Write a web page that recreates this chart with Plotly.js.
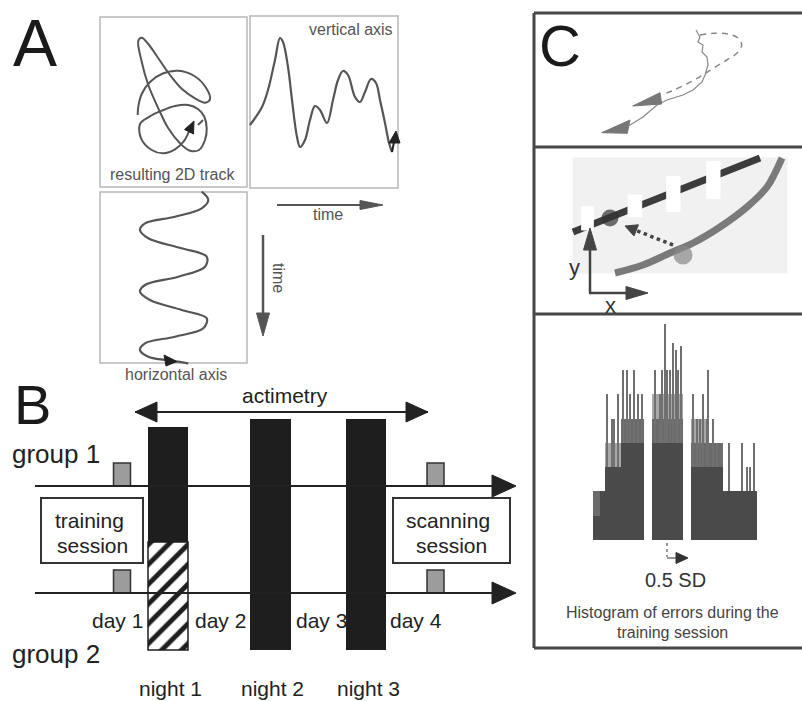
<!DOCTYPE html>
<html><head><meta charset="utf-8">
<script src="https://cdn.plot.ly/plotly-3.0.1.min.js"></script>
<style>html,body{margin:0;padding:0;background:#fff}#chart{width:802px;height:701px}</style>
</head><body><div id="chart"></div>
<script>
// ===== Panel A : traces =====
const trackX = [137.7,138.3,141.7,150,163.3,178.3,194.3,205.7,210,205,195,182.3,170,158.3,148.3,141.7,138.3,141.7,148.3,158.3,168.3,180,190,199,205,206.7,204.3,198.3,188.3,175,161.7,148.3,140,141,151.7,163.3,175,184.3,191];
const trackY = [115,106.7,94,82,73.3,70.7,76,87.3,99.3,102.7,98.3,89.3,75,58.3,44,37.7,40.7,61.7,85,108.3,128.3,143.3,150.7,150,140,128.3,116.7,109.3,105,106,110.7,117.3,124,138.3,150,153.3,149.3,140.7,126];
const trackTailX = [198,203], trackTailY = [125,120];
const trackHeadX = [194,184.5,193.5], trackHeadY = [121,129.5,134];

const vertSigX = [250,262,268,275,280,283,288,292,297,300,305,310,315,320,327,333,338,343,348,355,360,365,371,376,380,385,389,392];
const vertSigY = [125,107,90,60,38,42,67,100,137,147,140,120,106,110,123,100,80,71,75,97,102,92,79,83,100,123,143,152];
const vertHeadX = [396,389,400], vertHeadY = [131,143,143];
const vertStemX = [392,395], vertStemY = [152,137];

const horizSigX = [201.7,208.3,201.7,175,145,140,148.3,181.7,206.7,205,178.3,145,140,150,181.7,206.7,203.3,175,145,140,148.3,165,178.3,188.3];
const horizSigY = [191.7,200,208.3,216.7,223.3,230,238.3,248.3,256.7,266.7,276.7,285,291.7,300,310,318.3,328.3,336.7,343.3,350,356.7,360,361.7,363.3];
const horizHeadX = [177,164,166], horizHeadY = [361.5,355,366];

const timeArrowHX = [277,362], timeArrowHY = [205,205];
const timeHeadHX = [383,360,360], timeHeadHY = [205,200.5,209.5];
const timeArrowVX = [263,263], timeArrowVY = [235,315];
const timeHeadVX = [263,256.5,269.5], timeHeadVY = [336,313,313];

// ===== Panel B : protocol =====
const nightLabels = ['night 1','night 2','night 3'];
const nightLeft = [148,250,346], nightRight = [188,291,386];
const nightTop = [427,419,419], nightBottom = [650,650,650];
const hatchTop = 542;
const dayLabels = ['day 1','day 2','day 3','day 4'];
const dayLabelX = [117,220,321,416];
const groupLineY = [486,593];
const lineStartX = 35, lineEndX = 495, arrowTipX = 516;
const sessionSqX = [122,122,435.5,435.5], sessionSqTop = [463,570,463,570], sessionSqBottom = [486,593,486,593];
const actimetryX = [135,428], actimetryY = 412;

// ===== Panel C : top tracking =====
const c1SolidX = [696,700,698,703,702,707,708,705,702,693,683,667,657,643,630,618];
const c1SolidY = [30,37,42,45,52,57,65,75,82,90,95,100,105,117,125,129];
const c1SolidHeadX = [601.7,630,627.3], c1SolidHeadY = [132.7,120,133.3];
const c1DashX = [700,713.3,728.3,738.3,741.7,736.7,726.7,713.3,700,686.7,671.7,661.7];
const c1DashY = [35,33.3,34,38.3,45,53.3,60,68.3,76.7,84,91,95];
const c1DashHeadX = [632.7,660,661.7], c1DashHeadY = [106,92.7,104];

// ===== Panel C : middle error geometry =====
const c2TargetX = [573,760], c2TargetY = [232,158];
const c2CurveX = [615,643,670,693,720,747,767,775,782];
const c2CurveY = [273,265,253,243,227,207,187,173,158];
const c2NotchL = [581.7,628,666.7,706.7], c2NotchR = [593.3,641.7,680,720];
const c2NotchT = [206.7,195,176.7,161.7], c2NotchB = [230,216.7,211.7,198.3];
const c2TargetPt = [610,218], c2CursorPt = [683,255];
const c2ErrX = [673,636], c2ErrY = [245,230.4];
const c2ErrHeadX = [625,638.4,634], c2ErrHeadY = [226,224.8,236];

// ===== Panel C : histogram (bins, counts) =====
const histDarkStart = [0,3.5,6,14,29.5,49,65];
const histDarkEnd   = [3.5,6,14,25.5,45,65,82];
const histDarkCount = [1,2,3,4,4,3,2];
const histMidStart = [0,29.5,49,14];
const histMidEnd   = [3.5,45,65,25.5];
const histMidCount = [2,5,4,5];
const histLightStart = [49,6,29.5];
const histLightEnd   = [57,14,45];
const histLightCount = [5,4,6];
const spikeBin   = [7,9.5,10.5,12.5,15,17,18.5,20.5,22.5,24.5,31,33.5,34.5,36,37,38.5,40,41.5,42.5,44,50,52,53.5,55,57,57.5,60,62,64.5,68,74.5,77,78.5,80.5];
const spikeCount = [6,5,5,6,7,7,6,7,6,6,7,6,7,8.9,7,7,8.1,7.8,7,8,6,5,5,6,5,7,5,4,4,4,4,3,3,4];

// ===== helpers =====
const FONT = 'Liberation Sans, Arial, Helvetica, sans-serif';
const traces = [];
function line(x, y, color, width, dash, spline){
  traces.push({type:'scatter', mode:'lines', x, y, xaxis:'x', yaxis:'y', hoverinfo:'skip',
    line:{color, width, dash: dash || 'solid', shape: spline ? 'spline' : 'linear', smoothing: 1}});
}
function poly(x, y, color){
  traces.push({type:'scatter', mode:'lines', x:[...x, x[0]], y:[...y, y[0]], xaxis:'x', yaxis:'y',
    fill:'toself', fillcolor:color, line:{color, width:1}, hoverinfo:'skip'});
}
function rectTrace(l, r, t, b, color){ poly([l,r,r,l],[t,t,b,b],color); }

// ---- Panel A
line(trackX, trackY, '#555', 2, null, true);
line(trackTailX, trackTailY, '#555', 2);
poly(trackHeadX, trackHeadY, '#222');
line(vertSigX, vertSigY, '#555', 2.2, null, true);
line(vertStemX, vertStemY, '#222', 2);
poly(vertHeadX, vertHeadY, '#222');
line(horizSigX, horizSigY, '#555', 2.2, null, true);
poly(horizHeadX, horizHeadY, '#222');
line(timeArrowHX, timeArrowHY, '#555', 2);
poly(timeHeadHX, timeHeadHY, '#555');
line(timeArrowVX, timeArrowVY, '#555', 2.5);
poly(timeHeadVX, timeHeadVY, '#555');

// ---- Panel B
line(actimetryX, [actimetryY, actimetryY], '#222', 2);
poly([actimetryX[0], actimetryX[0]+22, actimetryX[0]+22], [actimetryY, actimetryY-10, actimetryY+10], '#222');
poly([actimetryX[1], actimetryX[1]-22, actimetryX[1]-22], [actimetryY, actimetryY-10, actimetryY+10], '#222');
groupLineY.forEach(gy => {
  line([lineStartX, lineEndX], [gy, gy], '#222', 2);
  poly([arrowTipX, lineEndX-3, lineEndX-3], [gy, gy-11, gy+11], '#222');
});
traces.push({type:'bar', xaxis:'x', yaxis:'y', hoverinfo:'skip',
  x: nightLeft.map((l,i)=>(l+nightRight[i])/2), width: nightLeft.map((l,i)=>nightRight[i]-l),
  base: nightTop, y: nightTop.map((t,i)=>nightBottom[i]-t),
  marker:{color:'#1e1e1e', line:{width:0}}});
traces.push({type:'bar', xaxis:'x', yaxis:'y', hoverinfo:'skip',
  x:[(nightLeft[0]+nightRight[0])/2], width:[nightRight[0]-nightLeft[0]],
  base:[hatchTop], y:[nightBottom[0]-hatchTop],
  marker:{color:'#ffffff', line:{color:'#1e1e1e', width:1.5},
    pattern:{shape:'/', fgcolor:'#1e1e1e', bgcolor:'#ffffff', size:14, solidity:0.35, fillmode:'replace'}}});
traces.push({type:'bar', xaxis:'x', yaxis:'y', hoverinfo:'skip',
  x: sessionSqX, width: 17, base: sessionSqTop, y: sessionSqTop.map((t,i)=>sessionSqBottom[i]-t),
  marker:{color:'#9c9c9c', line:{color:'#333', width:1.5}}});

// ---- Panel C top
line(c1SolidX, c1SolidY, '#888', 1.2);
poly(c1SolidHeadX, c1SolidHeadY, '#777');
line(c1DashX, c1DashY, '#888', 1.5, '6px,5px', true);
poly(c1DashHeadX, c1DashHeadY, '#777');

// ---- Panel C middle
rectTrace(573, 787, 158, 273, '#f1f1f1');
line(c2TargetX, c2TargetY, '#3c3c3c', 7);
c2NotchL.forEach((l,i)=>rectTrace(l, c2NotchR[i], c2NotchT[i], c2NotchB[i], '#ffffff'));
line(c2CurveX, c2CurveY, '#7a7a7a', 7, null, true);
line(c2ErrX, c2ErrY, '#444', 3.5, 'dot');
poly(c2ErrHeadX, c2ErrHeadY, '#444');
traces.push({type:'scatter', mode:'markers', xaxis:'x', yaxis:'y', hoverinfo:'skip',
  x:[c2TargetPt[0], c2CursorPt[0]], y:[c2TargetPt[1], c2CursorPt[1]],
  marker:{size:[17,19], color:['#333','#888'], line:{width:0}}});
line([590,590],[293,246], '#444', 2.5);
poly([590,583.5,596.5],[228,250,250], '#444');
line([589,630],[293,293], '#444', 2.5);
poly([648,626,626],[293,286.5,299.5], '#444');

// ---- histogram (own axes)
function histBars(s, e, c, color){
  traces.push({type:'bar', xaxis:'x2', yaxis:'y2', hoverinfo:'skip',
    x: s.map((v,i)=>(v+e[i])/2), width: s.map((v,i)=>e[i]-v), y: c,
    marker:{color, line:{width:0}}});
}
histBars(histLightStart, histLightEnd, histLightCount, '#a8a8a8');
histBars(histMidStart, histMidEnd, histMidCount, '#6a6a6a');
traces.push({type:'bar', xaxis:'x2', yaxis:'y2', hoverinfo:'skip',
  x: spikeBin, y: spikeCount, width: 0.6, marker:{color:'#707070', line:{width:0}}});
histBars(histDarkStart, histDarkEnd, histDarkCount, '#4a4a4a');
line([667,667],[543,557], '#555', 1.2, 'dot');
line([667,678],[558,558], '#555', 1.2);
poly([688,676,676],[558,552.5,563.5], '#333');

// ===== shapes =====
const shapes = [];
const box = (x0,y0,x1,y1,color,w) => shapes.push({type:'rect', xref:'x', yref:'y', x0, y0, x1, y1, line:{color, width:w}, layer:'below'});
box(100,17,247,187,'#b8b8b8',1.5);
box(250,16,398,188,'#b8b8b8',1.5);
box(100,192,247,363,'#b8b8b8',1.5);
box(41,498,143,563,'#333',2);
box(393,498,510,563,'#333',2);
const hl = (x0,y0,x1,y1) => shapes.push({type:'line', xref:'x', yref:'y', x0, y0, x1, y1, line:{color:'#474747', width:3}});
hl(534,13,802,13); hl(534,13,534,648); hl(534,147,802,147); hl(534,314,802,314); hl(534,648,802,648);

// ===== annotations =====
const annotations = [];
const txt = (text, x, y, size, color, extra) => annotations.push(Object.assign({text, x, y, xref:'x', yref:'y', showarrow:false, xanchor:'center', yanchor:'middle', font:{family:FONT, size, color}}, extra||{}));
txt('A', 35, 43, 66, '#1a1a1a');
txt('B', 32, 404, 56, '#1a1a1a');
txt('C', 560, 45, 58, '#1a1a1a');
txt('resulting 2D track', 172.5, 174.4, 16, '#555');
txt('vertical axis', 350.5, 29.4, 16, '#555');
txt('time', 328, 214.4, 16, '#555');
txt('time', 279, 278, 16, '#555', {textangle:90});
txt('horizontal axis', 176, 374.5, 16, '#555');
txt('actimetry', 285, 395, 21, '#222');
txt('group 1', 56, 454, 26, '#222');
txt('group 2', 56, 654, 26, '#222');
txt('training', 89, 520, 21, '#222');
txt('session', 92, 545, 21, '#222');
txt('scanning', 448, 520, 21, '#222');
txt('session', 451, 545, 21, '#222');
dayLabels.forEach((d,i)=>txt(d, dayLabelX[i], 620, 21, '#222'));
nightLabels.forEach((n,i)=>txt(n, (nightLeft[i]+nightRight[i])/2 + 2, 688, 21, '#222'));
txt('y', 574, 267, 22, '#333');
txt('x', 610, 305, 22, '#333');
txt('0.5 SD', 675, 580, 20, '#333');
txt('Histogram of errors during the', 672, 612.4, 16, '#444');
txt('training session', 672, 632, 16, '#444');

const layout = {
  width:802, height:701, margin:{l:0,r:0,t:0,b:0}, paper_bgcolor:'#fff', plot_bgcolor:'rgba(0,0,0,0)',
  showlegend:false, barmode:'overlay', bargap:0,
  xaxis:{range:[0,802], visible:false, domain:[0,1], fixedrange:true},
  yaxis:{range:[701,0], visible:false, domain:[0,1], fixedrange:true},
  xaxis2:{range:[0,82], visible:false, domain:[593/802, 757/802], anchor:'y2'},
  yaxis2:{range:[0,9.5], visible:false, domain:[1-540/701, 1-(540-9.5*24.3)/701], anchor:'x2'},
  shapes, annotations
};
Plotly.newPlot('chart', traces, layout, {displayModeBar:false, staticPlot:true});
</script></body></html>
